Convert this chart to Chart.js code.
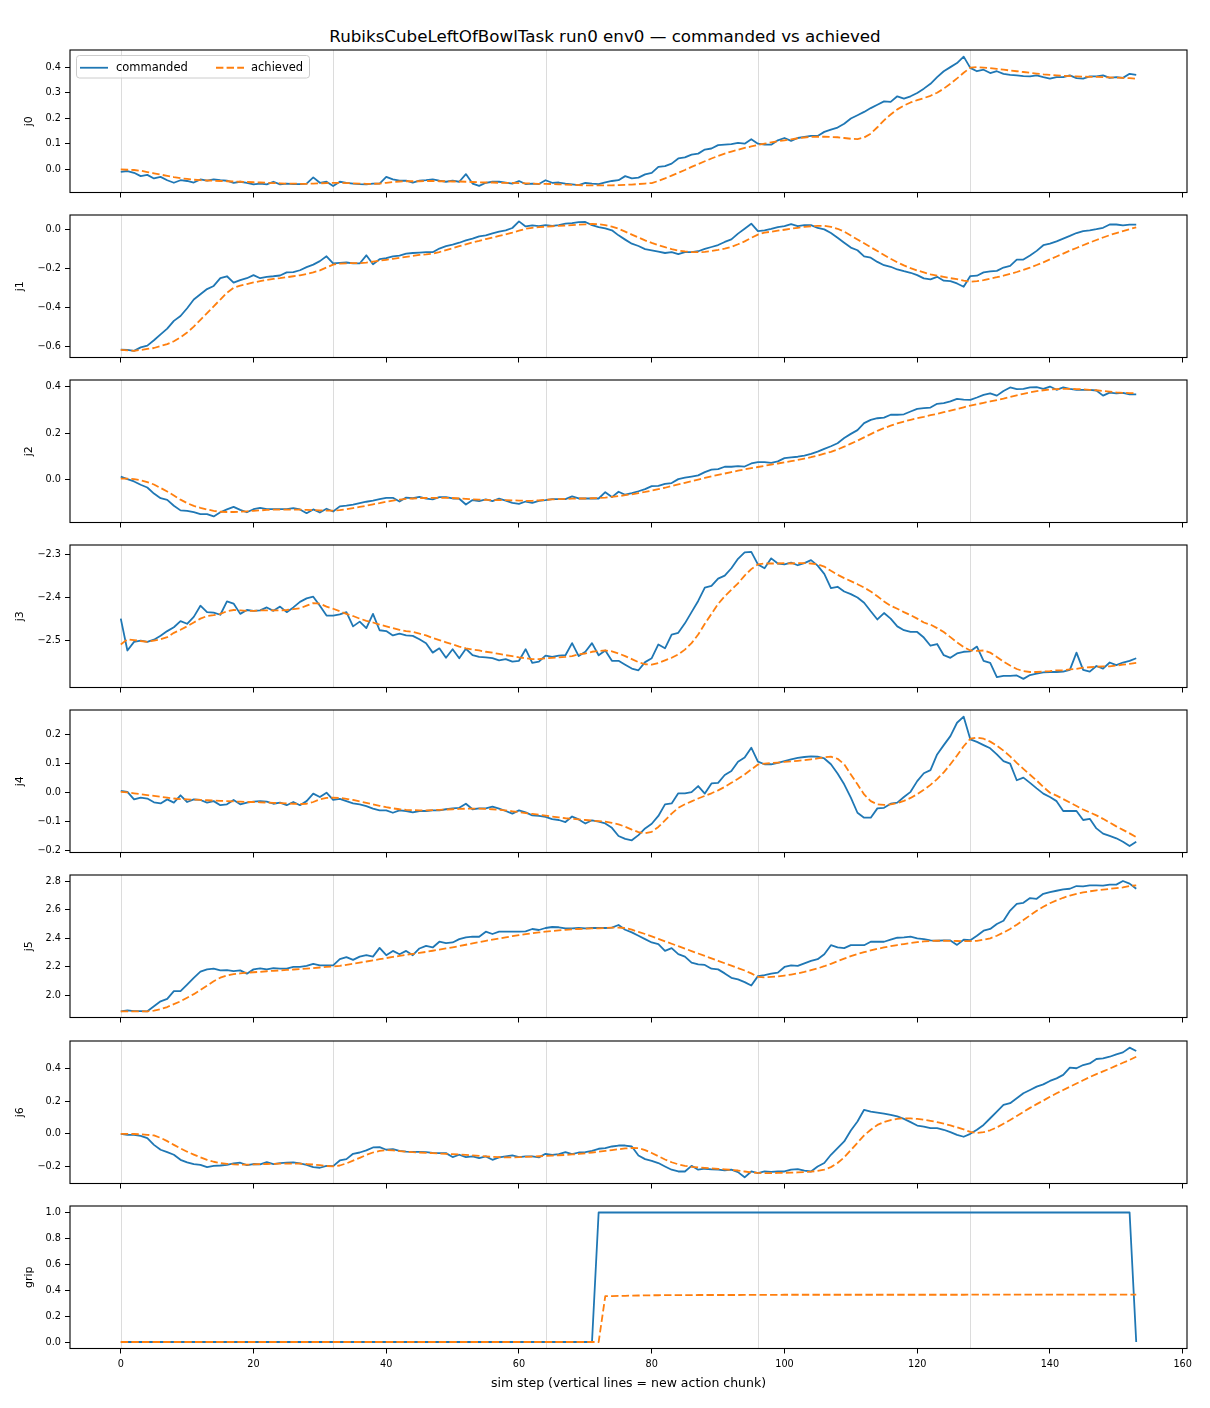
<!DOCTYPE html>
<html>
<head>
<meta charset="utf-8">
<script src="https://cdn.jsdelivr.net/npm/chart.js@4.4.1/dist/chart.umd.min.js"></script>
<style>
  html, body { margin: 0; padding: 0; background: #fff; }
  body { width: 1210px; height: 1408px; position: relative; overflow: hidden; font-family: "DejaVu Sans", sans-serif; }
  #title { position: absolute; left: 0; top: 25px; width: 1210px; text-align: center; font-size: 16.7px; line-height: 22px; color: #000; }
  canvas { position: absolute; left: 0; }
</style>
</head>
<body>
<div id="title">RubiksCubeLeftOfBowlTask run0 env0 — commanded vs achieved</div>
<script>
// --- data (one value per sim step, 0..153) ---
const j0Cmd = [
  -0.009, -0.006, -0.013, -0.026, -0.021, -0.035, -0.029, -0.042, -0.052, -0.042,
  -0.045, -0.051, -0.039, -0.044, -0.039, -0.042, -0.044, -0.052, -0.048, -0.052,
  -0.058, -0.055, -0.058, -0.048, -0.058, -0.055, -0.057, -0.057, -0.055, -0.031,
  -0.052, -0.048, -0.065, -0.048, -0.052, -0.055, -0.057, -0.058, -0.055, -0.055,
  -0.029, -0.039, -0.044, -0.044, -0.051, -0.044, -0.042, -0.039, -0.044, -0.048,
  -0.044, -0.048, -0.018, -0.055, -0.064, -0.052, -0.048, -0.048, -0.051, -0.055,
  -0.045, -0.057, -0.055, -0.057, -0.042, -0.052, -0.051, -0.055, -0.058, -0.061,
  -0.052, -0.055, -0.057, -0.050, -0.045, -0.042, -0.026, -0.035, -0.032, -0.019,
  -0.013, 0.010, 0.013, 0.023, 0.043, 0.047, 0.058, 0.062, 0.078, 0.082,
  0.095, 0.097, 0.099, 0.104, 0.101, 0.118, 0.101, 0.097, 0.097, 0.114,
  0.123, 0.112, 0.123, 0.127, 0.131, 0.131, 0.147, 0.156, 0.164, 0.179,
  0.199, 0.212, 0.225, 0.240, 0.253, 0.266, 0.264, 0.286, 0.277, 0.286,
  0.299, 0.316, 0.335, 0.361, 0.384, 0.400, 0.416, 0.441, 0.397, 0.384,
  0.390, 0.377, 0.384, 0.374, 0.370, 0.368, 0.365, 0.364, 0.368, 0.361,
  0.355, 0.361, 0.361, 0.368, 0.357, 0.355, 0.364, 0.364, 0.368, 0.358,
  0.361, 0.358, 0.374, 0.370
];
const j0Ach = [
  0.000, -0.001, -0.002, -0.005, -0.010, -0.015, -0.020, -0.025, -0.030, -0.034,
  -0.037, -0.040, -0.042, -0.043, -0.044, -0.045, -0.046, -0.047, -0.048, -0.049,
  -0.050, -0.051, -0.052, -0.053, -0.054, -0.055, -0.055, -0.056, -0.056, -0.055,
  -0.054, -0.053, -0.052, -0.052, -0.053, -0.054, -0.055, -0.056, -0.056, -0.055,
  -0.052, -0.049, -0.047, -0.046, -0.046, -0.046, -0.045, -0.045, -0.046, -0.046,
  -0.047, -0.047, -0.048, -0.049, -0.050, -0.051, -0.051, -0.052, -0.052, -0.052,
  -0.053, -0.054, -0.055, -0.056, -0.056, -0.057, -0.058, -0.059, -0.060, -0.061,
  -0.062, -0.062, -0.062, -0.062, -0.062, -0.061, -0.060, -0.059, -0.057, -0.055,
  -0.053, -0.045, -0.035, -0.024, -0.013, -0.002, 0.010, 0.021, 0.032, 0.043,
  0.053, 0.062, 0.070, 0.077, 0.084, 0.090, 0.096, 0.101, 0.106, 0.110,
  0.114, 0.118, 0.122, 0.125, 0.127, 0.128, 0.128, 0.127, 0.126, 0.123,
  0.120, 0.119, 0.125, 0.140, 0.165, 0.192, 0.215, 0.235, 0.250, 0.262,
  0.271, 0.279, 0.288, 0.300, 0.316, 0.335, 0.356, 0.378, 0.398, 0.400,
  0.398, 0.396, 0.393, 0.390, 0.387, 0.384, 0.381, 0.378, 0.375, 0.372,
  0.370, 0.368, 0.366, 0.365, 0.364, 0.363, 0.362, 0.362, 0.361, 0.360,
  0.359, 0.358, 0.357, 0.355
];
const j1Cmd = [
  -0.619, -0.620, -0.625, -0.607, -0.598, -0.570, -0.540, -0.510, -0.470, -0.445,
  -0.405, -0.360, -0.333, -0.306, -0.290, -0.250, -0.240, -0.273, -0.260, -0.250,
  -0.234, -0.250, -0.243, -0.240, -0.236, -0.220, -0.219, -0.209, -0.193, -0.180,
  -0.162, -0.137, -0.174, -0.171, -0.169, -0.174, -0.174, -0.132, -0.178, -0.152,
  -0.147, -0.137, -0.133, -0.123, -0.120, -0.118, -0.116, -0.116, -0.097, -0.085,
  -0.077, -0.067, -0.055, -0.046, -0.034, -0.029, -0.019, -0.010, -0.003, 0.009,
  0.043, 0.017, 0.022, 0.019, 0.024, 0.020, 0.024, 0.031, 0.034, 0.039,
  0.040, 0.024, 0.014, 0.007, -0.003, -0.029, -0.051, -0.072, -0.084, -0.100,
  -0.106, -0.113, -0.120, -0.116, -0.126, -0.116, -0.115, -0.111, -0.099, -0.089,
  -0.079, -0.063, -0.050, -0.020, 0.005, 0.031, -0.007, -0.003, 0.005, 0.014,
  0.019, 0.029, 0.019, 0.024, 0.024, 0.009, 0.002, -0.017, -0.041, -0.067,
  -0.092, -0.106, -0.137, -0.144, -0.166, -0.183, -0.191, -0.205, -0.214, -0.222,
  -0.234, -0.251, -0.256, -0.243, -0.263, -0.265, -0.277, -0.294, -0.239, -0.237,
  -0.220, -0.215, -0.212, -0.195, -0.186, -0.154, -0.154, -0.133, -0.109, -0.080,
  -0.072, -0.060, -0.046, -0.032, -0.017, -0.007, -0.003, 0.003, 0.010, 0.027,
  0.027, 0.022, 0.026, 0.026
];
const j1Ach = [
  -0.620, -0.622, -0.625, -0.620, -0.615, -0.610, -0.600, -0.590, -0.575, -0.555,
  -0.530, -0.500, -0.465, -0.430, -0.395, -0.360, -0.325, -0.300, -0.288, -0.280,
  -0.272, -0.265, -0.259, -0.254, -0.250, -0.245, -0.240, -0.235, -0.228, -0.220,
  -0.210, -0.195, -0.180, -0.175, -0.173, -0.172, -0.172, -0.170, -0.165, -0.160,
  -0.155, -0.150, -0.145, -0.140, -0.135, -0.130, -0.127, -0.123, -0.115, -0.105,
  -0.095, -0.085, -0.075, -0.065, -0.057, -0.048, -0.040, -0.032, -0.024, -0.015,
  -0.005, 0.005, 0.010, 0.013, 0.016, 0.018, 0.020, 0.022, 0.024, 0.026,
  0.028, 0.030, 0.028, 0.024, 0.016, 0.005, -0.010, -0.025, -0.040, -0.055,
  -0.068, -0.080, -0.090, -0.100, -0.107, -0.112, -0.115, -0.116, -0.114, -0.110,
  -0.104, -0.097, -0.088, -0.075, -0.060, -0.042, -0.025, -0.015, -0.010, -0.005,
  0.000, 0.005, 0.010, 0.015, 0.018, 0.020, 0.020, 0.015, 0.005, -0.010,
  -0.030, -0.050, -0.070, -0.090, -0.110, -0.130, -0.150, -0.168, -0.184, -0.198,
  -0.210, -0.220, -0.230, -0.237, -0.243, -0.250, -0.255, -0.262, -0.268, -0.265,
  -0.260, -0.252, -0.245, -0.237, -0.228, -0.218, -0.207, -0.195, -0.182, -0.168,
  -0.153, -0.138, -0.123, -0.108, -0.094, -0.080, -0.066, -0.053, -0.040, -0.028,
  -0.017, -0.007, 0.003, 0.012
];
const j2Cmd = [
  0.014, 0.003, -0.007, -0.021, -0.033, -0.059, -0.079, -0.086, -0.111, -0.131,
  -0.133, -0.139, -0.147, -0.147, -0.157, -0.139, -0.127, -0.116, -0.129, -0.139,
  -0.126, -0.120, -0.126, -0.126, -0.126, -0.126, -0.121, -0.127, -0.143, -0.127,
  -0.140, -0.124, -0.136, -0.114, -0.111, -0.106, -0.100, -0.094, -0.089, -0.083,
  -0.077, -0.077, -0.093, -0.076, -0.079, -0.073, -0.081, -0.084, -0.074, -0.074,
  -0.080, -0.081, -0.106, -0.087, -0.091, -0.084, -0.091, -0.081, -0.089, -0.099,
  -0.103, -0.093, -0.099, -0.090, -0.087, -0.083, -0.083, -0.083, -0.071, -0.080,
  -0.080, -0.080, -0.080, -0.053, -0.074, -0.051, -0.064, -0.057, -0.049, -0.040,
  -0.027, -0.026, -0.017, -0.014, 0.003, 0.009, 0.014, 0.019, 0.033, 0.044,
  0.046, 0.056, 0.056, 0.059, 0.057, 0.070, 0.076, 0.076, 0.073, 0.079,
  0.093, 0.096, 0.099, 0.104, 0.111, 0.121, 0.133, 0.144, 0.157, 0.179,
  0.197, 0.213, 0.243, 0.257, 0.264, 0.267, 0.279, 0.279, 0.281, 0.293,
  0.304, 0.307, 0.310, 0.326, 0.329, 0.336, 0.347, 0.344, 0.343, 0.353,
  0.364, 0.371, 0.361, 0.381, 0.396, 0.389, 0.390, 0.396, 0.397, 0.390,
  0.400, 0.386, 0.396, 0.390, 0.386, 0.386, 0.386, 0.383, 0.361, 0.374,
  0.371, 0.373, 0.366, 0.366
];
const j2Ach = [
  0.005, 0.005, 0.003, -0.002, -0.010, -0.020, -0.035, -0.050, -0.067, -0.085,
  -0.100, -0.112, -0.120, -0.127, -0.133, -0.137, -0.138, -0.138, -0.137, -0.135,
  -0.133, -0.131, -0.129, -0.128, -0.128, -0.128, -0.128, -0.128, -0.129, -0.130,
  -0.131, -0.132, -0.132, -0.130, -0.126, -0.121, -0.116, -0.111, -0.105, -0.100,
  -0.094, -0.089, -0.085, -0.082, -0.080, -0.079, -0.078, -0.077, -0.077, -0.077,
  -0.078, -0.080, -0.082, -0.084, -0.085, -0.086, -0.087, -0.087, -0.087, -0.088,
  -0.089, -0.090, -0.090, -0.088, -0.086, -0.084, -0.083, -0.082, -0.081, -0.080,
  -0.080, -0.079, -0.078, -0.076, -0.073, -0.070, -0.066, -0.062, -0.057, -0.052,
  -0.046, -0.040, -0.034, -0.027, -0.020, -0.013, -0.006, 0.001, 0.008, 0.015,
  0.021, 0.027, 0.033, 0.039, 0.045, 0.050, 0.055, 0.060, 0.065, 0.070,
  0.075, 0.080, 0.085, 0.091, 0.097, 0.104, 0.112, 0.120, 0.130, 0.142,
  0.155, 0.168, 0.182, 0.196, 0.210, 0.222, 0.232, 0.242, 0.250, 0.257,
  0.264, 0.270, 0.277, 0.283, 0.290, 0.297, 0.304, 0.311, 0.318, 0.324,
  0.330, 0.336, 0.342, 0.348, 0.355, 0.362, 0.369, 0.375, 0.380, 0.384,
  0.387, 0.389, 0.390, 0.390, 0.389, 0.388, 0.386, 0.384, 0.381, 0.378,
  0.375, 0.373, 0.372, 0.371
];
const j3Cmd = [
  -2.450, -2.524, -2.504, -2.501, -2.504, -2.499, -2.490, -2.479, -2.470, -2.456,
  -2.462, -2.446, -2.420, -2.435, -2.436, -2.441, -2.410, -2.415, -2.439, -2.430,
  -2.432, -2.431, -2.424, -2.432, -2.422, -2.435, -2.424, -2.411, -2.403, -2.399,
  -2.420, -2.443, -2.443, -2.440, -2.435, -2.468, -2.457, -2.472, -2.439, -2.477,
  -2.479, -2.489, -2.485, -2.489, -2.490, -2.498, -2.507, -2.529, -2.519, -2.541,
  -2.521, -2.542, -2.520, -2.535, -2.539, -2.540, -2.542, -2.547, -2.544, -2.550,
  -2.548, -2.521, -2.553, -2.550, -2.536, -2.539, -2.536, -2.535, -2.507, -2.537,
  -2.527, -2.507, -2.535, -2.524, -2.548, -2.548, -2.557, -2.566, -2.570, -2.551,
  -2.542, -2.510, -2.519, -2.487, -2.483, -2.461, -2.435, -2.409, -2.378, -2.374,
  -2.357, -2.350, -2.333, -2.311, -2.296, -2.295, -2.324, -2.333, -2.310, -2.322,
  -2.324, -2.320, -2.326, -2.321, -2.314, -2.327, -2.346, -2.379, -2.376, -2.387,
  -2.393, -2.401, -2.413, -2.433, -2.452, -2.437, -2.450, -2.468, -2.477, -2.481,
  -2.481, -2.494, -2.513, -2.509, -2.535, -2.541, -2.531, -2.527, -2.526, -2.515,
  -2.548, -2.553, -2.586, -2.583, -2.583, -2.582, -2.590, -2.581, -2.578, -2.575,
  -2.574, -2.574, -2.573, -2.569, -2.529, -2.569, -2.573, -2.560, -2.566, -2.552,
  -2.558, -2.552, -2.548, -2.542
];
const j3Ach = [
  -2.510, -2.498, -2.500, -2.502, -2.504, -2.501, -2.498, -2.493, -2.483, -2.476,
  -2.468, -2.459, -2.450, -2.444, -2.442, -2.439, -2.433, -2.430, -2.431, -2.432,
  -2.432, -2.431, -2.431, -2.431, -2.431, -2.430, -2.428, -2.426, -2.420, -2.414,
  -2.415, -2.422, -2.427, -2.433, -2.439, -2.444, -2.450, -2.455, -2.459, -2.464,
  -2.468, -2.472, -2.476, -2.479, -2.481, -2.485, -2.489, -2.495, -2.500, -2.505,
  -2.510, -2.515, -2.519, -2.522, -2.524, -2.527, -2.529, -2.532, -2.535, -2.537,
  -2.540, -2.542, -2.544, -2.544, -2.542, -2.541, -2.540, -2.539, -2.537, -2.533,
  -2.531, -2.527, -2.525, -2.524, -2.526, -2.531, -2.537, -2.544, -2.551, -2.556,
  -2.557, -2.553, -2.547, -2.541, -2.533, -2.522, -2.507, -2.487, -2.462, -2.439,
  -2.416, -2.398, -2.383, -2.368, -2.350, -2.335, -2.324, -2.322, -2.322, -2.322,
  -2.321, -2.322, -2.321, -2.321, -2.322, -2.324, -2.329, -2.339, -2.348, -2.356,
  -2.363, -2.370, -2.378, -2.387, -2.398, -2.410, -2.420, -2.427, -2.435, -2.442,
  -2.450, -2.459, -2.464, -2.472, -2.481, -2.493, -2.505, -2.516, -2.524, -2.525,
  -2.524, -2.529, -2.539, -2.550, -2.559, -2.567, -2.572, -2.574, -2.574, -2.573,
  -2.572, -2.570, -2.570, -2.568, -2.567, -2.564, -2.563, -2.562, -2.561, -2.561,
  -2.559, -2.557, -2.555, -2.553
];
const j4Cmd = [
  0.006, 0.003, -0.023, -0.017, -0.020, -0.033, -0.037, -0.023, -0.034, -0.009,
  -0.032, -0.023, -0.025, -0.034, -0.029, -0.043, -0.040, -0.025, -0.040, -0.034,
  -0.031, -0.029, -0.031, -0.038, -0.034, -0.043, -0.032, -0.043, -0.029, -0.003,
  -0.015, 0.000, -0.025, -0.021, -0.029, -0.037, -0.040, -0.046, -0.055, -0.061,
  -0.061, -0.069, -0.061, -0.063, -0.068, -0.063, -0.063, -0.061, -0.061, -0.057,
  -0.054, -0.052, -0.038, -0.057, -0.054, -0.054, -0.048, -0.055, -0.063, -0.072,
  -0.061, -0.068, -0.078, -0.080, -0.083, -0.091, -0.094, -0.101, -0.082, -0.092,
  -0.106, -0.095, -0.100, -0.106, -0.121, -0.149, -0.159, -0.164, -0.146, -0.123,
  -0.107, -0.080, -0.040, -0.037, -0.002, -0.002, 0.002, 0.023, -0.003, 0.032,
  0.034, 0.061, 0.075, 0.107, 0.121, 0.155, 0.107, 0.098, 0.098, 0.103,
  0.109, 0.115, 0.120, 0.123, 0.125, 0.124, 0.118, 0.098, 0.066, 0.029,
  -0.017, -0.069, -0.086, -0.086, -0.054, -0.052, -0.038, -0.034, -0.015, 0.003,
  0.040, 0.067, 0.078, 0.132, 0.164, 0.195, 0.241, 0.262, 0.184, 0.175,
  0.164, 0.153, 0.132, 0.109, 0.100, 0.043, 0.052, 0.034, 0.015, -0.003,
  -0.015, -0.029, -0.063, -0.063, -0.063, -0.094, -0.090, -0.123, -0.141, -0.149,
  -0.157, -0.169, -0.184, -0.169
];
const j4Ach = [
  0.003, 0.001, -0.002, -0.005, -0.008, -0.011, -0.014, -0.017, -0.020, -0.022,
  -0.023, -0.024, -0.025, -0.026, -0.027, -0.028, -0.029, -0.030, -0.031, -0.032,
  -0.032, -0.033, -0.034, -0.035, -0.036, -0.037, -0.038, -0.039, -0.038, -0.032,
  -0.023, -0.018, -0.017, -0.018, -0.021, -0.025, -0.030, -0.035, -0.040, -0.045,
  -0.050, -0.054, -0.057, -0.059, -0.060, -0.061, -0.061, -0.060, -0.059, -0.058,
  -0.057, -0.056, -0.055, -0.055, -0.055, -0.056, -0.057, -0.059, -0.061, -0.064,
  -0.067, -0.070, -0.073, -0.076, -0.079, -0.082, -0.085, -0.088, -0.090, -0.092,
  -0.094, -0.096, -0.098, -0.100, -0.104, -0.109, -0.117, -0.127, -0.136, -0.140,
  -0.135, -0.118, -0.095, -0.072, -0.052, -0.040, -0.030, -0.020, -0.011, -0.002,
  0.008, 0.020, 0.034, 0.048, 0.063, 0.080, 0.097, 0.100, 0.102, 0.104,
  0.106, 0.108, 0.110, 0.112, 0.115, 0.118, 0.122, 0.124, 0.117, 0.098,
  0.063, 0.029, -0.006, -0.029, -0.040, -0.042, -0.040, -0.036, -0.028, -0.018,
  -0.005, 0.010, 0.027, 0.047, 0.070, 0.098, 0.128, 0.160, 0.186, 0.190,
  0.186, 0.176, 0.162, 0.145, 0.125, 0.103, 0.082, 0.062, 0.042, 0.020,
  0.000, -0.010, -0.022, -0.034, -0.046, -0.058, -0.068, -0.078, -0.090, -0.103,
  -0.116, -0.128, -0.140, -0.153
];
const j5Cmd = [
  1.890, 1.897, 1.892, 1.892, 1.890, 1.925, 1.960, 1.977, 2.031, 2.031,
  2.077, 2.124, 2.167, 2.183, 2.188, 2.176, 2.178, 2.171, 2.176, 2.153,
  2.183, 2.190, 2.183, 2.192, 2.188, 2.188, 2.200, 2.200, 2.207, 2.221,
  2.211, 2.211, 2.211, 2.254, 2.268, 2.249, 2.272, 2.282, 2.272, 2.333,
  2.282, 2.312, 2.289, 2.312, 2.282, 2.329, 2.347, 2.336, 2.376, 2.366,
  2.371, 2.394, 2.406, 2.411, 2.411, 2.446, 2.430, 2.446, 2.446, 2.446,
  2.446, 2.448, 2.465, 2.458, 2.472, 2.479, 2.477, 2.469, 2.469, 2.472,
  2.469, 2.472, 2.472, 2.472, 2.474, 2.493, 2.460, 2.441, 2.418, 2.394,
  2.371, 2.359, 2.312, 2.331, 2.289, 2.272, 2.230, 2.218, 2.214, 2.188,
  2.183, 2.155, 2.124, 2.113, 2.094, 2.070, 2.136, 2.143, 2.153, 2.160,
  2.200, 2.211, 2.207, 2.225, 2.242, 2.254, 2.289, 2.352, 2.336, 2.331,
  2.352, 2.352, 2.352, 2.376, 2.376, 2.376, 2.390, 2.404, 2.406, 2.411,
  2.399, 2.394, 2.385, 2.383, 2.385, 2.385, 2.354, 2.390, 2.387, 2.418,
  2.453, 2.465, 2.500, 2.523, 2.594, 2.641, 2.648, 2.681, 2.676, 2.711,
  2.723, 2.732, 2.742, 2.746, 2.765, 2.763, 2.770, 2.770, 2.768, 2.775,
  2.775, 2.800, 2.782, 2.746
];
const j5Ach = [
  1.890, 1.890, 1.890, 1.890, 1.890, 1.895, 1.905, 1.920, 1.940, 1.960,
  1.985, 2.010, 2.040, 2.070, 2.100, 2.125, 2.140, 2.150, 2.155, 2.160,
  2.163, 2.166, 2.170, 2.173, 2.176, 2.179, 2.182, 2.185, 2.188, 2.192,
  2.196, 2.200, 2.203, 2.208, 2.215, 2.222, 2.230, 2.238, 2.246, 2.254,
  2.262, 2.270, 2.277, 2.284, 2.291, 2.298, 2.305, 2.313, 2.321, 2.329,
  2.337, 2.346, 2.355, 2.364, 2.373, 2.382, 2.391, 2.399, 2.407, 2.415,
  2.422, 2.429, 2.435, 2.441, 2.446, 2.451, 2.455, 2.459, 2.462, 2.465,
  2.467, 2.469, 2.470, 2.472, 2.474, 2.474, 2.472, 2.460, 2.445, 2.430,
  2.413, 2.396, 2.379, 2.362, 2.345, 2.328, 2.311, 2.294, 2.277, 2.260,
  2.243, 2.226, 2.209, 2.192, 2.175, 2.155, 2.130, 2.127, 2.130, 2.134,
  2.140, 2.147, 2.155, 2.165, 2.177, 2.190, 2.205, 2.222, 2.240, 2.258,
  2.275, 2.290, 2.303, 2.315, 2.326, 2.336, 2.345, 2.353, 2.360, 2.367,
  2.373, 2.378, 2.381, 2.383, 2.383, 2.382, 2.381, 2.380, 2.380, 2.382,
  2.390, 2.400, 2.418, 2.440, 2.465, 2.495, 2.527, 2.560, 2.592, 2.620,
  2.645, 2.665, 2.683, 2.698, 2.710, 2.720, 2.728, 2.735, 2.740, 2.745,
  2.750, 2.755, 2.765, 2.770
];
const j6Cmd = [
  0.000, -0.006, -0.006, -0.012, -0.027, -0.068, -0.098, -0.113, -0.129, -0.160,
  -0.176, -0.186, -0.191, -0.205, -0.197, -0.195, -0.191, -0.182, -0.178, -0.193,
  -0.186, -0.188, -0.174, -0.186, -0.180, -0.178, -0.176, -0.182, -0.191, -0.205,
  -0.209, -0.197, -0.199, -0.164, -0.156, -0.123, -0.115, -0.102, -0.084, -0.082,
  -0.098, -0.094, -0.105, -0.109, -0.111, -0.111, -0.113, -0.117, -0.119, -0.119,
  -0.143, -0.129, -0.143, -0.139, -0.150, -0.139, -0.160, -0.145, -0.139, -0.133,
  -0.143, -0.139, -0.139, -0.145, -0.123, -0.129, -0.125, -0.113, -0.125, -0.115,
  -0.113, -0.105, -0.092, -0.088, -0.078, -0.072, -0.072, -0.078, -0.133, -0.156,
  -0.166, -0.180, -0.201, -0.221, -0.232, -0.232, -0.197, -0.221, -0.215, -0.219,
  -0.221, -0.225, -0.221, -0.236, -0.268, -0.232, -0.242, -0.232, -0.234, -0.232,
  -0.232, -0.221, -0.217, -0.227, -0.232, -0.201, -0.180, -0.129, -0.088, -0.047,
  0.020, 0.076, 0.148, 0.137, 0.131, 0.125, 0.117, 0.107, 0.092, 0.072,
  0.051, 0.045, 0.035, 0.035, 0.025, 0.010, -0.006, -0.018, 0.000, 0.025,
  0.055, 0.096, 0.137, 0.178, 0.189, 0.219, 0.250, 0.270, 0.291, 0.305,
  0.326, 0.342, 0.363, 0.408, 0.404, 0.424, 0.434, 0.461, 0.465, 0.475,
  0.490, 0.502, 0.531, 0.510
];
const j6Ach = [
  0.000, 0.000, -0.001, -0.003, -0.006, -0.010, -0.025, -0.045, -0.068, -0.090,
  -0.110, -0.128, -0.145, -0.160, -0.172, -0.180, -0.185, -0.188, -0.190, -0.190,
  -0.188, -0.187, -0.186, -0.185, -0.184, -0.183, -0.183, -0.184, -0.186, -0.189,
  -0.193, -0.198, -0.200, -0.195, -0.182, -0.165, -0.148, -0.130, -0.115, -0.105,
  -0.100, -0.102, -0.106, -0.110, -0.113, -0.115, -0.117, -0.119, -0.121, -0.123,
  -0.125, -0.127, -0.130, -0.133, -0.136, -0.139, -0.142, -0.144, -0.145, -0.145,
  -0.144, -0.142, -0.140, -0.138, -0.136, -0.134, -0.132, -0.130, -0.127, -0.124,
  -0.120, -0.115, -0.110, -0.105, -0.100, -0.095, -0.090, -0.087, -0.088, -0.100,
  -0.118, -0.138, -0.158, -0.175, -0.188, -0.197, -0.203, -0.207, -0.210, -0.213,
  -0.216, -0.219, -0.222, -0.226, -0.232, -0.238, -0.241, -0.242, -0.242, -0.241,
  -0.240, -0.239, -0.238, -0.236, -0.233, -0.228, -0.221, -0.205, -0.180, -0.145,
  -0.100, -0.055, -0.010, 0.025, 0.055, 0.073, 0.085, 0.092, 0.096, 0.095,
  0.092, 0.087, 0.080, 0.072, 0.063, 0.052, 0.040, 0.027, 0.012, 0.005,
  0.010, 0.022, 0.040, 0.062, 0.085, 0.110, 0.135, 0.160, 0.183, 0.205,
  0.228, 0.250, 0.270, 0.290, 0.310, 0.330, 0.350, 0.368, 0.385, 0.402,
  0.420, 0.438, 0.455, 0.475
];
const gripCmd = [
  0, 0, 0, 0, 0, 0, 0, 0, 0, 0,
  0, 0, 0, 0, 0, 0, 0, 0, 0, 0,
  0, 0, 0, 0, 0, 0, 0, 0, 0, 0,
  0, 0, 0, 0, 0, 0, 0, 0, 0, 0,
  0, 0, 0, 0, 0, 0, 0, 0, 0, 0,
  0, 0, 0, 0, 0, 0, 0, 0, 0, 0,
  0, 0, 0, 0, 0, 0, 0, 0, 0, 0,
  0, 0, 1, 1, 1, 1, 1, 1, 1, 1,
  1, 1, 1, 1, 1, 1, 1, 1, 1, 1,
  1, 1, 1, 1, 1, 1, 1, 1, 1, 1,
  1, 1, 1, 1, 1, 1, 1, 1, 1, 1,
  1, 1, 1, 1, 1, 1, 1, 1, 1, 1,
  1, 1, 1, 1, 1, 1, 1, 1, 1, 1,
  1, 1, 1, 1, 1, 1, 1, 1, 1, 1,
  1, 1, 1, 1, 1, 1, 1, 1, 1, 1,
  1, 1, 1, 0
];
const gripAch = [
  0, 0, 0, 0, 0, 0, 0, 0, 0, 0,
  0, 0, 0, 0, 0, 0, 0, 0, 0, 0,
  0, 0, 0, 0, 0, 0, 0, 0, 0, 0,
  0, 0, 0, 0, 0, 0, 0, 0, 0, 0,
  0, 0, 0, 0, 0, 0, 0, 0, 0, 0,
  0, 0, 0, 0, 0, 0, 0, 0, 0, 0,
  0, 0, 0, 0, 0, 0, 0, 0, 0, 0,
  0, 0, 0, 0.354, 0.355, 0.356, 0.357, 0.358, 0.359, 0.360,
  0.361, 0.361, 0.362, 0.362, 0.362, 0.362, 0.362, 0.363, 0.363, 0.363,
  0.363, 0.363, 0.363, 0.363, 0.364, 0.364, 0.364, 0.364, 0.364, 0.364,
  0.365, 0.365, 0.365, 0.365, 0.365, 0.365, 0.365, 0.365, 0.365, 0.365,
  0.365, 0.365, 0.365, 0.365, 0.365, 0.365, 0.365, 0.365, 0.365, 0.365,
  0.365, 0.365, 0.365, 0.365, 0.365, 0.365, 0.365, 0.365, 0.366, 0.366,
  0.366, 0.366, 0.366, 0.366, 0.366, 0.366, 0.366, 0.366, 0.366, 0.366,
  0.366, 0.366, 0.366, 0.366, 0.366, 0.366, 0.366, 0.366, 0.366, 0.366,
  0.366, 0.366, 0.366, 0.366
];

// x positions (sim steps) and tick labels
const steps = j0Cmd.map((_, i) => i);
const chunkStarts = [0, 32, 64, 96, 128];
const xTicks = [0, 20, 40, 60, 80, 100, 120, 140, 160];
const j0Ticks = [0.0, 0.1, 0.2, 0.3, 0.4];
const j1Ticks = [-0.6, -0.4, -0.2, 0.0];
const j2Ticks = [0.0, 0.2, 0.4];
const j3Ticks = [-2.5, -2.4, -2.3];
const j4Ticks = [-0.2, -0.1, 0.0, 0.1, 0.2];
const j5Ticks = [2.0, 2.2, 2.4, 2.6, 2.8];
const j6Ticks = [-0.2, 0.0, 0.2, 0.4];
const gripTicks = [0.0, 0.2, 0.4, 0.6, 0.8, 1.0];

const BLUE = '#1f77b4';
const ORANGE = '#ff7f0e';
const LINE_W = 1.8;
const DASH = [7.4, 3.2];
const FONT = 'DejaVu Sans';

// panel layout: axes box tops in the page, all the same height
const boxTops = [50, 215, 380, 545, 710, 875, 1041, 1206];
const BOX_H = 142.5;
const PAD_TOP = 14;

const panels = [
  { label: 'j0', cmd: j0Cmd, ach: j0Ach, min: -0.09, max: 0.467, ticks: j0Ticks },
  { label: 'j1', cmd: j1Cmd, ach: j1Ach, min: -0.659, max: 0.076, ticks: j1Ticks },
  { label: 'j2', cmd: j2Cmd, ach: j2Ach, min: -0.183, max: 0.428, ticks: j2Ticks },
  { label: 'j3', cmd: j3Cmd, ach: j3Ach, min: -2.61, max: -2.279, ticks: j3Ticks },
  { label: 'j4', cmd: j4Cmd, ach: j4Ach, min: -0.206, max: 0.285, ticks: j4Ticks },
  { label: 'j5', cmd: j5Cmd, ach: j5Ach, min: 1.847, max: 2.842, ticks: j5Ticks },
  { label: 'j6', cmd: j6Cmd, ach: j6Ach, min: -0.306, max: 0.572, ticks: j6Ticks },
  { label: 'grip', cmd: gripCmd, ach: gripAch, min: -0.05, max: 1.05, ticks: gripTicks }
];

function fmtTick(v) {
  const s = Math.abs(v).toFixed(1);
  return (v < -1e-9 ? '\u2212' : '') + s;
}

// light vertical lines where a new action chunk starts
const chunkLines = {
  id: 'chunkLines',
  beforeDatasetsDraw(chart) {
    const { ctx, chartArea: a, scales: { x } } = chart;
    ctx.save();
    ctx.strokeStyle = '#dcdcdc';
    ctx.lineWidth = 1;
    chunkStarts.forEach(v => {
      const px = Math.round(x.getPixelForValue(v)) + 0.5;
      ctx.beginPath();
      ctx.moveTo(px, a.top);
      ctx.lineTo(px, a.bottom);
      ctx.stroke();
    });
    ctx.restore();
  }
};

// black box round each axes
const frame = {
  id: 'frame',
  afterDatasetsDraw(chart) {
    const { ctx, chartArea: a } = chart;
    ctx.save();
    ctx.strokeStyle = '#000';
    ctx.lineWidth = 1.1;
    ctx.strokeRect(a.left, a.top, a.right - a.left, a.bottom - a.top);
    ctx.restore();
  }
};

// matplotlib-style legend in the upper left of the first axes
const cornerLegend = {
  id: 'cornerLegend',
  afterDraw(chart) {
    const { ctx, chartArea: a } = chart;
    const x = a.left + 6.5, y = a.top + 5.5, w = 233, h = 22.5, r = 3;
    ctx.save();
    ctx.beginPath();
    ctx.moveTo(x + r, y);
    ctx.arcTo(x + w, y, x + w, y + h, r);
    ctx.arcTo(x + w, y + h, x, y + h, r);
    ctx.arcTo(x, y + h, x, y, r);
    ctx.arcTo(x, y, x + w, y, r);
    ctx.closePath();
    ctx.fillStyle = 'rgba(255,255,255,0.8)';
    ctx.fill();
    ctx.strokeStyle = '#cccccc';
    ctx.lineWidth = 1;
    ctx.stroke();
    const cy = y + h / 2 + 1;
    ctx.lineWidth = LINE_W;
    ctx.strokeStyle = BLUE;
    ctx.beginPath(); ctx.moveTo(x + 3.5, cy); ctx.lineTo(x + 31.5, cy); ctx.stroke();
    ctx.setLineDash(DASH);
    ctx.strokeStyle = ORANGE;
    ctx.beginPath(); ctx.moveTo(x + 139.5, cy); ctx.lineTo(x + 167.5, cy); ctx.stroke();
    ctx.setLineDash([]);
    ctx.fillStyle = '#000';
    ctx.font = '11.5px "' + FONT + '"';
    ctx.textBaseline = 'middle';
    ctx.fillText('commanded', x + 39.5, cy + 0.5);
    ctx.fillText('achieved', x + 174.5, cy + 0.5);
    ctx.restore();
  }
};

Chart.defaults.font.family = FONT;
Chart.defaults.color = '#000';

panels.forEach((p, i) => {
  const isLast = i === panels.length - 1;
  const negLabels = p.ticks.some(v => v < 0);
  const canvasTop = boxTops[i] - PAD_TOP;
  const canvasH = isLast ? 1408 - canvasTop : 171;
  const xH = canvasH - PAD_TOP - BOX_H;

  const cv = document.createElement('canvas');
  cv.width = 1210;
  cv.height = canvasH;
  cv.style.top = canvasTop + 'px';
  cv.style.width = '1210px';
  cv.style.height = canvasH + 'px';
  document.body.appendChild(cv);

  new Chart(cv.getContext('2d'), {
    type: 'line',
    data: {
      labels: steps,
      datasets: [
        {
          label: 'achieved', data: p.ach, borderColor: ORANGE, borderWidth: LINE_W,
          borderDash: DASH, pointRadius: 0, tension: 0, fill: false,
          borderJoinStyle: 'round', borderCapStyle: 'butt'
        },
        {
          label: 'commanded', data: p.cmd, borderColor: BLUE, borderWidth: LINE_W,
          pointRadius: 0, tension: 0, fill: false,
          borderJoinStyle: 'round', borderCapStyle: 'butt'
        }
      ]
    },
    options: {
      responsive: false,
      animation: false,
      events: [],
      layout: { padding: { top: PAD_TOP, right: 23, left: 0, bottom: 0 } },
      plugins: { legend: { display: false }, tooltip: { enabled: false } },
      scales: {
        x: {
          type: 'linear',
          min: -7.65,
          max: 160.65,
          afterBuildTicks: s => { s.ticks = xTicks.map(v => ({ value: v })); },
          afterFit: s => { s.height = xH; },
          ticks: {
            display: isLast, autoSkip: false, maxRotation: 0, padding: 5.5,
            font: { size: 9.7 }, color: '#000', callback: v => String(v)
          },
          grid: { drawOnChartArea: false, drawTicks: true, tickLength: 5, tickColor: '#000', tickWidth: 1 },
          border: { display: false },
          title: {
            display: isLast,
            text: 'sim step (vertical lines = new action chunk)',
            font: { size: 12.5 }, color: '#000',
            padding: { top: 0, bottom: 17 }
          }
        },
        y: {
          type: 'linear',
          min: p.min,
          max: p.max,
          afterBuildTicks: s => { s.ticks = p.ticks.map(v => ({ value: v })); },
          afterFit: s => { s.width = 70; },
          ticks: { padding: 4, font: { size: 9.7 }, color: '#000', callback: v => fmtTick(v) },
          grid: { drawOnChartArea: false, drawTicks: true, tickLength: 5, tickColor: '#000', tickWidth: 1 },
          border: { display: false },
          title: {
            display: true, text: p.label, font: { size: 11 }, color: '#000',
            padding: { top: negLabels ? 14 : 22.5, bottom: 0 }
          }
        }
      }
    },
    plugins: i === 0 ? [chunkLines, frame, cornerLegend] : [chunkLines, frame]
  });
});
</script>
</body>
</html>
